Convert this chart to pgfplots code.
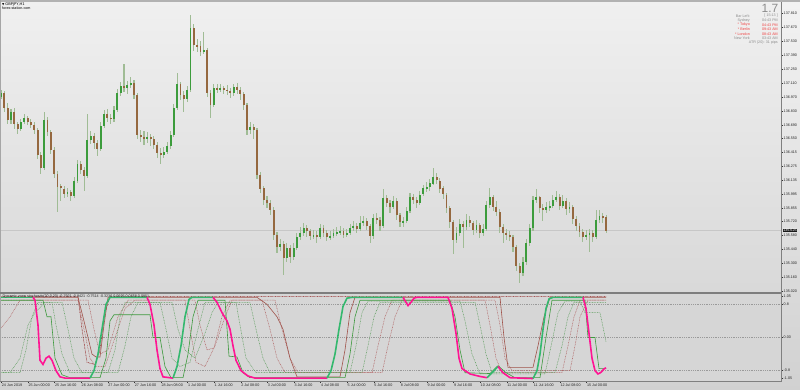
\documentclass[border=0pt]{standalone}
\usepackage{pgfplots}
\pgfplotsset{compat=1.18}
\usepackage{pgfplotstable}
\usepackage{fontspec}
\setmainfont{Liberation Sans}
\newcommand\tf{\fontsize{3.7}{4.2}\selectfont}
\definecolor{wick}{HTML}{A0BC95}
\definecolor{bull}{HTML}{3C9C3C}
\definecolor{bear}{HTML}{95683F}
\definecolor{thickG}{HTML}{34B86E}
\definecolor{thickM}{HTML}{FF1493}
\definecolor{tgreen}{HTML}{3E9A3E}
\definecolor{dgreen}{HTML}{5E9E5E}
\definecolor{dbrown}{HTML}{B06262}
\definecolor{tbrown}{HTML}{A0524A}
\definecolor{dred}{HTML}{8B1010}
\definecolor{lvl}{HTML}{9A9A9A}
\definecolor{infogray}{HTML}{8C8C8C}
\definecolor{infored}{HTML}{F04040}
\definecolor{sep}{HTML}{7E7E7E}

\pgfplotstableread{
o h l c
136.97 137.04 136.95 137.01
137.01 137.03 136.82 136.86
136.86 136.91 136.70 136.74
136.74 136.85 136.70 136.82
136.82 136.86 136.65 136.70
136.70 136.72 136.60 136.65
136.65 136.75 136.63 136.72
136.72 136.80 136.70 136.76
136.76 136.78 136.69 136.72
136.72 136.75 136.66 136.69
136.69 136.72 136.60 136.64
136.64 136.66 136.35 136.39
136.39 136.42 136.20 136.26
136.26 136.82 136.24 136.74
136.74 136.77 136.58 136.62
136.62 136.64 136.40 136.44
136.44 136.47 136.16 136.20
136.20 136.23 135.81 136.07
136.07 136.10 135.92 136.05
136.05 136.08 135.95 136.00
136.00 136.06 135.96 136.02
136.02 136.04 135.92 135.97
135.97 136.16 135.95 136.13
136.13 136.34 136.11 136.30
136.30 136.33 136.20 136.24
136.24 136.27 136.02 136.18
136.18 136.80 136.16 136.54
136.54 136.63 136.50 136.58
136.58 136.61 136.45 136.51
136.51 136.54 136.38 136.45
136.45 136.72 136.43 136.68
136.68 136.84 136.66 136.80
136.80 136.85 136.72 136.76
136.76 136.80 136.70 136.75
136.75 136.88 136.72 136.84
136.84 137.05 136.82 137.01
137.01 137.12 136.98 137.08
137.08 137.30 137.02 137.06
137.06 137.13 137.00 137.09
137.09 137.17 137.06 137.11
137.11 137.14 136.95 136.99
136.99 137.01 136.55 136.59
136.59 136.64 136.52 136.57
136.57 136.63 136.49 136.55
136.55 136.62 136.51 136.57
136.57 136.60 136.48 136.55
136.55 136.58 136.45 136.49
136.49 136.52 136.36 136.41
136.41 136.46 136.30 136.39
136.39 136.47 136.36 136.42
136.42 136.52 136.40 136.48
136.48 136.63 136.45 136.59
136.59 136.90 136.57 136.86
136.86 137.21 136.84 137.10
137.10 137.12 136.94 136.99
136.99 137.03 136.82 136.95
136.95 137.08 136.92 137.04
137.04 137.79 137.02 137.66
137.66 137.70 137.43 137.49
137.49 137.55 137.42 137.48
137.48 137.53 137.38 137.42
137.42 137.62 137.40 137.44
137.44 137.46 136.97 137.01
137.01 137.04 136.76 136.89
136.89 137.10 136.87 137.06
137.06 137.10 137.01 137.05
137.05 137.10 137.02 137.06
137.06 137.08 137.00 137.04
137.04 137.09 136.99 137.03
137.03 137.06 136.96 137.01
137.01 137.10 136.98 137.07
137.07 137.11 137.00 137.04
137.04 137.07 136.94 137.00
137.00 137.02 136.84 136.89
136.89 136.91 136.59 136.64
136.64 136.72 136.60 136.67
136.67 136.70 136.55 136.64
136.64 136.66 136.15 136.19
136.19 136.22 136.00 136.05
136.05 136.08 135.88 135.93
135.93 135.97 135.85 135.90
135.90 135.93 135.78 135.83
135.83 135.86 135.53 135.58
135.58 135.61 135.40 135.46
135.46 135.54 135.42 135.49
135.49 135.52 135.18 135.35
135.35 135.50 135.31 135.45
135.45 135.48 135.30 135.36
135.36 135.50 135.33 135.45
135.45 135.60 135.43 135.56
135.56 135.66 135.53 135.60
135.60 135.70 135.57 135.65
135.65 135.68 135.56 135.62
135.62 135.64 135.53 135.57
135.57 135.63 135.54 135.58
135.58 135.62 135.50 135.56
135.56 135.69 135.54 135.65
135.65 135.68 135.56 135.60
135.60 135.63 135.52 135.56
135.56 135.62 135.53 135.57
135.57 135.64 135.55 135.60
135.60 135.66 135.57 135.61
135.61 135.67 135.58 135.62
135.62 135.65 135.55 135.58
135.58 135.64 135.56 135.60
135.60 135.69 135.58 135.65
135.65 135.72 135.62 135.67
135.67 135.70 135.60 135.64
135.64 135.77 135.62 135.70
135.70 135.77 135.67 135.72
135.72 135.75 135.63 135.67
135.67 135.69 135.50 135.57
135.57 135.79 135.54 135.75
135.75 135.80 135.69 135.73
135.73 135.76 135.62 135.67
135.67 136.05 135.65 135.95
135.95 135.99 135.86 135.90
135.90 135.93 135.80 135.86
135.86 135.97 135.84 135.92
135.92 135.95 135.73 135.78
135.78 135.80 135.66 135.71
135.71 135.76 135.66 135.72
135.72 135.86 135.70 135.82
135.82 136.00 135.80 135.96
135.96 136.00 135.89 135.93
135.93 135.96 135.85 135.90
135.90 136.03 135.88 135.99
135.99 136.09 135.97 136.05
136.05 136.12 136.02 136.06
136.06 136.15 136.03 136.10
136.10 136.26 136.08 136.17
136.17 136.21 136.09 136.13
136.13 136.15 136.00 136.05
136.05 136.07 135.94 135.99
135.99 136.01 135.80 135.85
135.85 135.87 135.65 135.71
135.71 135.73 135.39 135.53
135.53 135.66 135.50 135.60
135.60 135.74 135.57 135.69
135.69 135.72 135.45 135.66
135.66 135.79 135.63 135.73
135.73 135.77 135.66 135.70
135.70 135.72 135.58 135.63
135.63 135.73 135.60 135.68
135.68 135.70 135.55 135.60
135.60 135.69 135.57 135.64
135.64 135.92 135.62 135.88
135.88 136.06 135.85 135.96
135.96 135.98 135.82 135.86
135.86 135.92 135.77 135.81
135.81 135.84 135.60 135.66
135.66 135.69 135.50 135.60
135.60 135.64 135.53 135.58
135.58 135.62 135.52 135.56
135.56 135.58 135.41 135.46
135.46 135.48 135.22 135.27
135.27 135.30 135.10 135.20
135.20 135.36 135.17 135.31
135.31 135.54 135.28 135.50
135.50 135.69 135.47 135.65
135.65 135.97 135.62 135.93
135.93 136.05 135.90 135.96
135.96 135.98 135.80 135.85
135.85 135.89 135.72 135.83
135.83 135.91 135.80 135.86
135.86 135.92 135.82 135.87
135.87 135.98 135.85 135.93
135.93 136.02 135.91 135.96
135.96 135.99 135.83 135.87
135.87 135.99 135.85 135.92
135.92 135.95 135.78 135.84
135.84 135.91 135.80 135.86
135.86 135.88 135.69 135.74
135.74 135.77 135.62 135.67
135.67 135.70 135.56 135.61
135.61 135.64 135.51 135.56
135.56 135.63 135.53 135.58
135.58 135.64 135.41 135.60
135.60 135.63 135.51 135.56
135.56 135.83 135.54 135.73
135.73 135.83 135.70 135.77
135.77 135.80 135.70 135.76
135.76 135.78 135.60 135.625
}\candles

\begin{document}
\begin{tikzpicture}
\useasboundingbox (0bp,0bp) rectangle (800bp,-390bp);
\shade[top color=black!5, bottom color=black!18] (0bp,0bp) rectangle (800bp,-390bp);

% ---------------- main price panel
\begin{axis}[
  at={(0bp,-292bp)}, anchor=south west,
  width=781bp, height=289bp, scale only axis,
  xmin=-0.6, xmax=469.2, ymin=135.009, ymax=137.914,
  axis line style={draw=none},
  axis background/.style={top color=black!6, bottom color=black!15},
  xtick=\empty,
  ytick={137.81,137.67,137.53,137.39,137.25,137.11,136.97,136.83,136.69,136.55,136.415,136.275,136.135,135.995,135.855,135.72,135.58,135.44,135.30,135.16,135.02},
  yticklabels={137.810,137.670,137.530,137.390,137.250,137.110,136.970,136.830,136.690,136.550,136.415,136.275,136.135,135.995,135.855,135.720,135.580,135.440,135.300,135.160,135.020},
  ytick pos=right, yticklabel pos=right,
  tick align=outside, major tick length=2bp,
  tick style={draw=black!80, line width=0.4bp},
  yticklabel style={font=\tf, text=black!85, inner sep=0.5bp, anchor=west},
]
\addplot[draw=black!22, line width=0.5bp, forget plot] coordinates {(-0.6,135.625) (469.2,135.625)};
\addplot[draw=none, mark=none, forget plot,
  error bars/.cd, y dir=both, y explicit, error mark=none,
  error bar style={draw=wick, line width=1.1bp}]
  table[x expr=2*\coordindex, y expr={(\thisrow{h}+\thisrow{l})/2}, y error expr={(\thisrow{h}-\thisrow{l})/2}] {\candles};
\addplot[draw=none, mark=none, forget plot,
  error bars/.cd, y dir=both, y explicit, error mark=none,
  error bar style={draw=bull, line width=1.9bp}]
  table[x expr=2*\coordindex, y expr={(\thisrow{o}+\thisrow{c})/2}, y error expr={(\thisrow{c}>\thisrow{o}) ? ((\thisrow{c}-\thisrow{o})/2) : 0}] {\candles};
\addplot[draw=none, mark=none, forget plot,
  error bars/.cd, y dir=both, y explicit, error mark=none,
  error bar style={draw=bear, line width=1.9bp}]
  table[x expr=2*\coordindex, y expr={(\thisrow{o}+\thisrow{c})/2}, y error expr={(\thisrow{o}>\thisrow{c}) ? ((\thisrow{o}-\thisrow{c})/2) : 0}] {\candles};
\end{axis}

% ---------------- indicator panel
\begin{axis}[
  at={(0bp,-381bp)}, anchor=south west,
  width=781bp, height=87bp, scale only axis,
  xmin=0, xmax=781, ymin=-1.05, ymax=1.05,
  axis line style={draw=none},
  axis background/.style={fill=black!16},
  xtick={1.3,27.9,54.5,81.1,107.7,134.3,160.9,187.5,214.1,240.7,267.3,293.9,320.5,347.1,373.7,400.3,426.9,453.5,480.1,506.7,533.3,559.9,586.5},
  xticklabels={24 Jun 2019,25 Jun 00:00,25 Jun 16:00,26 Jun 08:00,27 Jun 00:00,27 Jun 16:00,28 Jun 08:00,1 Jul 00:00,1 Jul 16:00,2 Jul 08:00,3 Jul 00:00,3 Jul 16:00,4 Jul 08:00,5 Jul 00:00,5 Jul 16:00,8 Jul 08:00,9 Jul 00:00,9 Jul 16:00,10 Jul 08:00,11 Jul 00:00,11 Jul 16:00,12 Jul 08:00,15 Jul 00:00},
  ytick={0.99,0.8,0,-0.8,-0.99},
  yticklabels={1.05,0.8,0.00,-0.8,-1.05},
  xtick pos=bottom, ytick pos=right, yticklabel pos=right,
  tick align=outside, major tick length=2bp,
  tick style={draw=black!80, line width=0.4bp},
  xticklabel style={font=\tf, text=black!85, inner sep=0.4bp, anchor=north west},
  yticklabel style={font=\tf, text=black!85, inner sep=0.5bp, anchor=west},
]
% levels
\addplot[draw=lvl, line width=0.5bp, dash pattern=on 0.8bp off 1bp] coordinates {(0,0.8) (781,0.8)};
\addplot[draw=lvl, line width=0.5bp, dash pattern=on 0.8bp off 1bp] coordinates {(0,0) (781,0)};
\addplot[draw=lvl, line width=0.5bp, dash pattern=on 0.8bp off 1bp] coordinates {(0,-0.8) (781,-0.8)};
% slow dark red dotted
\addplot[draw=dred, line width=0.5bp, dash pattern=on 0.7bp off 0.7bp] coordinates {(0,0.99) (78,0.99) (82,0.2) (87,-0.6) (95,-0.65) (100,-0.3) (105,0.6) (110,0.99) (606,0.99)};
% dotted brown
\addplot[draw=dbrown, line width=0.5bp, dash pattern=on 0.8bp off 0.8bp] coordinates {(0,0.2) (10,0.5) (20,0.9) (78,0.9) (84,0.2) (90,-0.5) (96,-0.7) (105,-0.7) (115,0.0) (125,0.7) (135,0.9) (185,0.9) (190,0.2) (196,-0.6) (205,-0.7) (215,-0.2) (225,0.5) (232,0.9) (262,0.9) (270,0.2) (277,-0.5) (285,-0.85) (372,-0.85) (378,-0.2) (385,0.5) (392,0.9) (485,0.9) (490,0.3) (496,-0.5) (502,-0.85) (562,-0.85) (568,-0.2) (574,0.5) (580,0.9) (606,0.9)};
\addplot[draw=dbrown, line width=0.5bp, dash pattern=on 0.8bp off 0.8bp] coordinates {(0,0.9) (88,0.9) (94,0.2) (100,-0.4) (108,-0.3) (118,0.5) (128,0.9) (195,0.9) (200,0.3) (207,-0.3) (214,-0.25) (222,0.5) (230,0.9) (275,0.9) (282,0.2) (290,-0.5) (298,-0.85) (382,-0.85) (388,-0.2) (395,0.5) (402,0.9) (495,0.9) (500,0.3) (505,-0.5) (512,-0.8) (570,-0.8) (575,-0.2) (580,0.5) (588,0.9) (606,0.9)};
% dotted green
\addplot[draw=dgreen, line width=0.5bp, dash pattern=on 0.8bp off 0.8bp] coordinates {(0,-0.85) (10,-0.85) (20,-0.5) (28,0.3) (35,0.6) (45,0.85) (52,0.85) (56,0.3) (62,-0.4) (70,-0.85) (108,-0.85) (115,-0.3) (120,0.5) (125,0.85) (160,0.85) (166,0.2) (172,-0.5) (180,-0.7) (190,-0.6) (198,0.2) (205,0.85) (236,0.85) (240,0.3) (246,-0.5) (256,-0.85) (350,-0.85) (356,-0.2) (362,0.6) (368,0.88) (460,0.88) (465,0.4) (472,-0.4) (480,-0.88) (545,-0.88) (552,-0.1) (558,0.6) (565,0.88) (580,0.88) (585,0.6) (600,0.6) (606,-0.1)};
\addplot[draw=dgreen, line width=0.5bp, dash pattern=on 0.8bp off 0.8bp] coordinates {(0,-0.85) (20,-0.85) (26,-0.3) (32,0.5) (38,0.85) (62,0.85) (68,0.2) (74,-0.5) (82,-0.85) (118,-0.85) (125,-0.2) (131,0.5) (138,0.85) (172,0.85) (178,0.2) (185,-0.3) (195,-0.5) (205,0.1) (212,0.6) (218,0.85) (250,0.85) (256,0.2) (263,-0.5) (270,-0.85) (362,-0.85) (368,-0.2) (374,0.5) (380,0.85) (475,0.85) (480,0.3) (486,-0.4) (492,-0.85) (555,-0.85) (562,-0.2) (568,0.5) (574,0.85) (606,0.85)};
% solid brown
\addplot[draw=tbrown, line width=0.6bp] coordinates {(0,0.97) (78,0.97) (85,0.3) (92,-0.4) (96,-0.47) (100,-0.47) (104,0.3) (108,0.97) (257,0.97) (267,0.8) (277,0.5) (283,0.2) (290,-0.5) (297,-0.95) (340,-0.95) (345,-0.3) (350,0.6) (355,0.97) (500,0.97) (504,0.0) (508,-0.72) (533,-0.72) (538,-0.2) (544,0.5) (550,0.97) (606,0.97)};
% solid green thin
\addplot[draw=tgreen, line width=0.6bp] coordinates {(0,0.9) (43,0.9) (47,0.5) (51,0.5) (55,-0.5) (62,-0.9) (70,-0.97) (100,-0.97) (106,-0.5) (110,0.4) (114,0.55) (150,0.55) (153,0.0) (160,0.0) (165,-0.7) (171,-0.97) (183,-0.97) (188,-0.4) (193,0.5) (198,0.9) (225,0.9) (229,-0.45) (237,-0.47) (243,-0.85) (250,-0.97) (345,-0.97) (350,-0.4) (355,0.5) (360,0.9) (450,0.9) (455,0.5) (460,-0.3) (465,-0.85) (490,-0.87) (498,-0.68) (506,-0.85) (515,-0.97) (540,-0.97) (546,0.0) (552,0.9) (585,0.9) (588,0.0) (595,0.0) (599,-0.75) (606,-0.75)};
% thick line, green rising / magenta falling
\addplot[draw=thickG, line width=1.6bp] coordinates {(0,0.97) (33,0.97)};
\addplot[draw=thickM, line width=1.6bp] coordinates {(33,0.97) (35,0.9) (38,0.3) (40,-0.55) (43,-0.65) (46,-0.5) (49,-0.45) (52,-0.55) (56,-0.8) (60,-0.95) (65,-0.98) (90,-0.98)};
\addplot[draw=thickG, line width=1.6bp] coordinates {(90,-0.98) (94,-0.8) (98,-0.4) (102,0.2) (106,0.8) (110,0.97) (147,0.97)};
\addplot[draw=thickM, line width=1.6bp] coordinates {(147,0.97) (150,0.8) (154,0.3) (157,-0.3) (160,-0.75) (163,-0.95) (173,-0.98)};
\addplot[draw=thickG, line width=1.6bp] coordinates {(173,-0.98) (177,-0.7) (181,-0.2) (185,0.5) (189,0.92) (192,0.97) (213,0.97)};
\addplot[draw=thickM, line width=1.6bp] coordinates {(213,0.97) (217,0.85) (222,0.6) (227,0.4) (230,0.2) (233,-0.2) (236,-0.55) (241,-0.8) (248,-0.93) (255,-0.98) (327,-0.98)};
\addplot[draw=thickG, line width=1.6bp] coordinates {(327,-0.98) (331,-0.8) (335,-0.4) (339,0.2) (343,0.75) (347,0.95) (352,0.97) (403,0.97)};
\addplot[draw=thickM, line width=1.6bp] coordinates {(403,0.97) (406,0.85) (408,0.77) (411,0.85) (414,0.95) (417,0.97) (448,0.97) (452,0.7) (456,0.1) (459,-0.5) (462,-0.75) (470,-0.88) (480,-0.94) (487,-0.97)};
\addplot[draw=thickG, line width=1.6bp] coordinates {(487,-0.97) (492,-0.85) (498,-0.7)};
\addplot[draw=thickM, line width=1.6bp] coordinates {(498,-0.7) (503,-0.85) (510,-0.97) (533,-0.99)};
\addplot[draw=thickG, line width=1.6bp] coordinates {(533,-0.99) (537,-0.8) (540,-0.4) (543,0.2) (546,0.7) (549,0.93) (553,0.97) (583,0.97)};
\addplot[draw=thickM, line width=1.6bp] coordinates {(583,0.97) (586,0.7) (589,0.1) (592,-0.5) (595,-0.8) (598,-0.88) (601,-0.84) (604,-0.76) (606,-0.73)};
\end{axis}

% frame lines
\fill[black!30] (0bp,0bp) rectangle (800bp,-2bp);
\fill[black!35] (0bp,0bp) rectangle (1.2bp,-381bp);
\fill[sep] (0bp,-291.6bp) rectangle (782bp,-294bp);
\fill[black!50] (780.6bp,-2bp) rectangle (782bp,-381.5bp);
\fill[black!50] (0bp,-380.8bp) rectangle (782bp,-381.6bp);

% current price box
\node[fill=black!90, text=white, font=\tf, inner sep=0.6bp, anchor=west] at (782.5bp,-230.5bp) {135.625};

% texts
\node[anchor=west, font=\tf, inner sep=0pt] at (2bp,-4.6bp) {\fontspec{DejaVu Sans}\fontsize{3}{3}\selectfont▼\ \tf GBPJPY,H1};
\node[anchor=west, font=\tf, inner sep=0pt] at (2bp,-8.4bp) {forex-station.com};
\node[anchor=north west, font=\tf, text=black!85, inner sep=0pt] at (2.5bp,-295bp) {Dynamic zone stochastic(20,0,20) -0.7921 -0.9421 -0.7514 -0.3236 0.0695 0.0658 0.0851};

\node[anchor=east, text=infogray, inner sep=0pt, font=\fontsize{12}{12}\selectfont] at (778.5bp,-8bp) {1.7};
\begin{scope}[every node/.style={inner sep=0pt, font=\tf}]
\node[anchor=east, text=infogray] at (750bp,-15.8bp) {Bar Left:};
\node[anchor=east, text=infogray] at (778bp,-15.8bp) {[ 15:13 ]};
\node[anchor=east, text=infogray] at (750bp,-20.3bp) {Sydney};
\node[anchor=east, text=infogray] at (778bp,-20.3bp) {04:43 PM};
\node[anchor=east, text=infored] at (750bp,-24.8bp) {* Tokyo};
\node[anchor=east, text=infored] at (778bp,-24.8bp) {04:43 PM};
\node[anchor=east, text=infored] at (750bp,-29.3bp) {* Berlin};
\node[anchor=east, text=infored] at (778bp,-29.3bp) {09:43 AM};
\node[anchor=east, text=infored] at (750bp,-33.8bp) {* London};
\node[anchor=east, text=infored] at (778bp,-33.8bp) {08:43 AM};
\node[anchor=east, text=infogray] at (750bp,-38.3bp) {New York};
\node[anchor=east, text=infogray] at (778bp,-38.3bp) {03:43 AM};
\node[anchor=east, text=infogray] at (778bp,-42.8bp) {ATR (20): 31 pips};
\end{scope}
\end{tikzpicture}
\end{document}
